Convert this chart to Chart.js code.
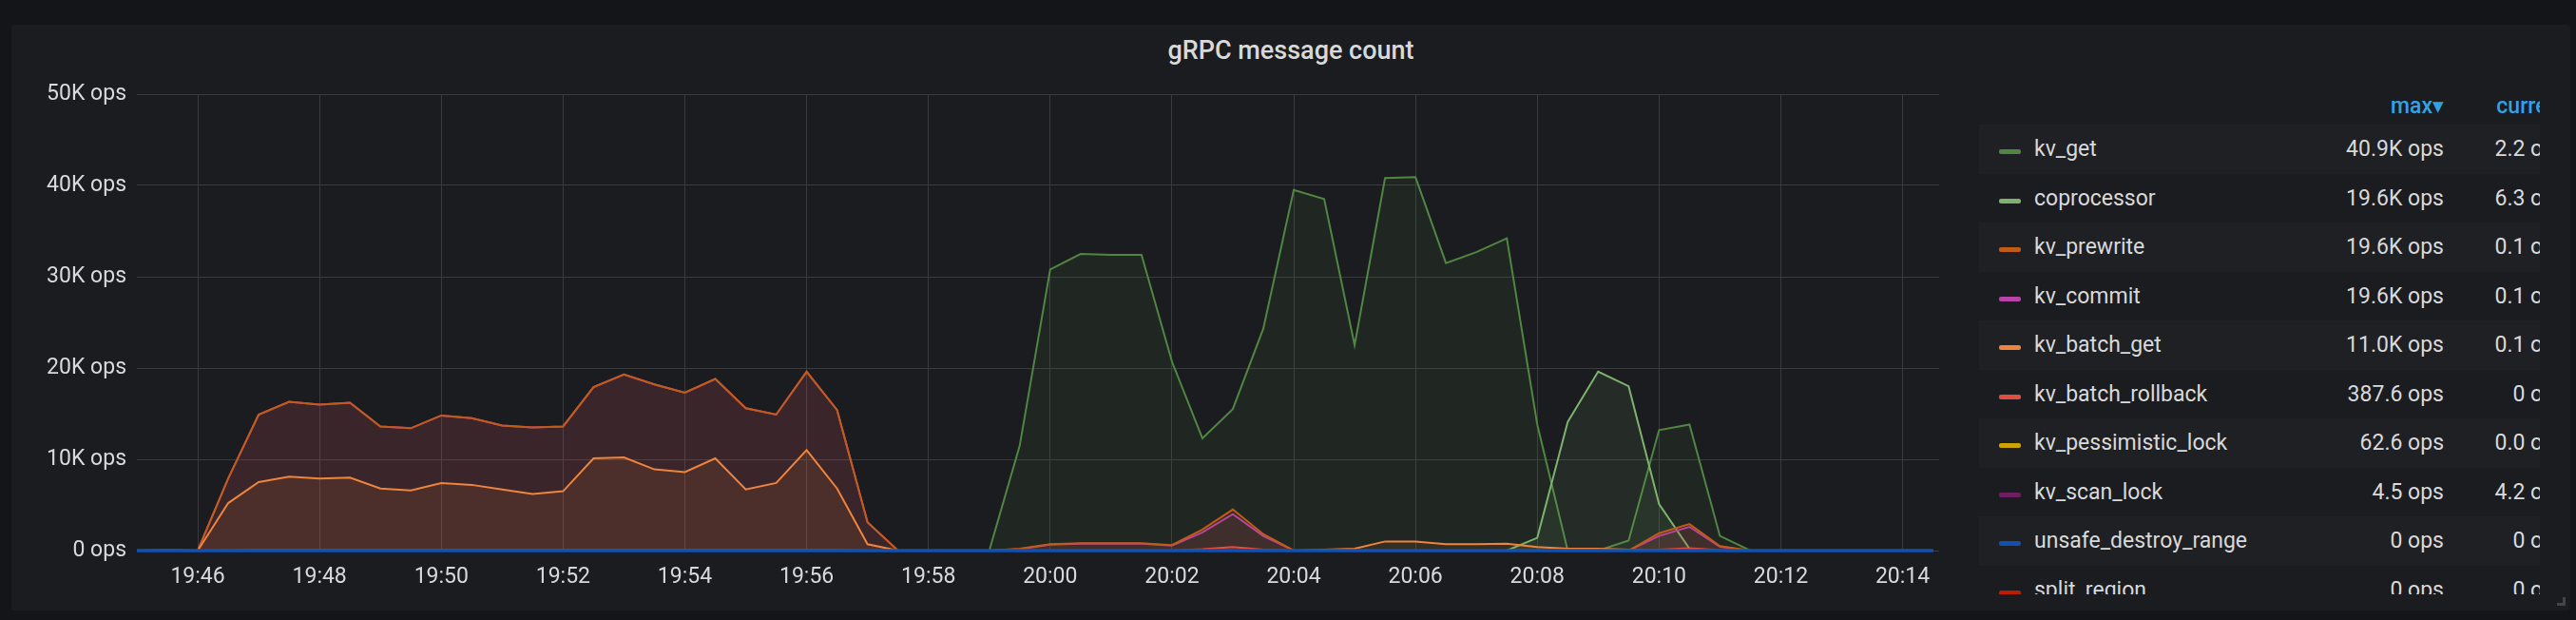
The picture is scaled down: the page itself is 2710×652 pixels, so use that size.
<!DOCTYPE html>
<html>
<head>
<meta charset="utf-8">
<script src="https://cdn.jsdelivr.net/npm/chart.js@4"></script>
<style>
  html, body { margin: 0; padding: 0; background: #141518; width: 2710px; height: 652px; overflow: hidden; font-family: Roboto, "Noto Sans", sans-serif; }
  .panel { position: absolute; left: 12px; top: 26px; width: 2692px; height: 616px; background: #1b1c1f; border-radius: 3px; }
  .title { position: absolute; left: 12px; width: 2692px; top: 37px; text-align: center; color: #d8d9da; font-size: 27px; font-weight: 500; }
  .grip { position: absolute; left: 2690px; top: 628px; width: 6px; height: 6px; border-right: 3px solid #44454a; border-bottom: 3px solid #44454a; }
  #chart { position: absolute; left: 12px; top: 70px; }
  .legend { position: absolute; left: 2082px; top: 88px; width: 590px; height: 537px; overflow: hidden; color: #d8d9da; font-size: 23px; }
  .legend .head { position: relative; height: 43px; color: #33a2e5; font-weight: 500; }
  .legend .row { position: relative; height: 51.5px; }
  .legend .row.alt { background: #1f2023; }
  .legend .sw { position: absolute; left: 21px; top: 26px; width: 23px; height: 5px; border-radius: 2px; }
  .legend .name { position: absolute; left: 58px; top: 12px; white-space: nowrap; }
  .legend .max, .legend .cur { position: absolute; top: 12px; white-space: nowrap; text-align: right; }
  .legend .max { right: 101px; }
  .legend .cur { right: -28px; }
  .legend .head .max, .legend .head .cur { top: 10px; }
</style>
</head>
<body>
<div class="panel"></div>
<div class="title">gRPC message count</div>
<div class="grip"></div>
<canvas id="chart" width="2038" height="560"></canvas>
<div class="legend" id="legend"></div>
<script>
// sample times (30s step)
const times = [
  '19:45:00','19:45:30','19:46:00','19:46:30','19:47:00','19:47:30','19:48:00','19:48:30','19:49:00','19:49:30',
  '19:50:00','19:50:30','19:51:00','19:51:30','19:52:00','19:52:30','19:53:00','19:53:30','19:54:00','19:54:30',
  '19:55:00','19:55:30','19:56:00','19:56:30','19:57:00','19:57:30','19:58:00','19:58:30','19:59:00','19:59:30',
  '20:00:00','20:00:30','20:01:00','20:01:30','20:02:00','20:02:30','20:03:00','20:03:30','20:04:00','20:04:30',
  '20:05:00','20:05:30','20:06:00','20:06:30','20:07:00','20:07:30','20:08:00','20:08:30','20:09:00','20:09:30',
  '20:10:00','20:10:30','20:11:00','20:11:30','20:12:00','20:12:30','20:13:00','20:13:30','20:14:00','20:14:30'
]

const kvGet = [
  0,0,0,0,0,0,0,0,0,0,
  0,0,0,0,0,0,0,0,0,0,
  0,0,0,0,0,0,0,0,0,11500,
  30800,32500,32400,32400,20700,12300,15500,24300,39500,38500,
  22500,40800,40900,31500,32700,34200,13800,0,0,1100,
  13200,13800,1600,0,0,0,0,0,0,2.2
]
const coprocessor = [
  0,0,0,0,0,0,0,0,0,0,
  0,0,0,0,0,0,0,0,0,0,
  0,0,0,0,0,0,0,0,0,0,
  0,0,0,0,0,0,0,0,0,0,
  0,0,0,0,0,0,1400,14100,19600,18000,
  5100,200,0,0,0,0,0,0,0,6.3
]
const kvPrewrite = [
  0,60,0,7900,14900,16300,16000,16200,13600,13400,
  14800,14500,13700,13500,13600,17900,19300,18200,17300,18800,
  15600,14900,19600,15400,3100,0,0,0,0,200,
  700,800,800,800,600,2300,4500,1800,0,0,
  0,0,0,0,0,0,0,0,0,0,
  1900,2900,500,0,0,0,0,0,0,0.1
]
const kvCommit = [
  0,50,0,7900,14900,16300,16000,16200,13600,13400,
  14800,14500,13700,13500,13600,17900,19300,18200,17300,18800,
  15600,14900,19600,15400,3100,0,0,0,0,150,
  650,750,750,750,550,2000,4000,1600,0,0,
  0,0,0,0,0,0,0,0,0,0,
  1600,2600,400,0,0,0,0,0,0,0.1
]
const kvBatchGet = [
  0,0,0,5200,7500,8100,7900,8000,6800,6600,
  7400,7200,6700,6200,6500,10100,10200,8900,8600,10100,
  6700,7400,11000,6800,700,0,0,0,0,0,
  0,0,0,0,0,0,0,0,0,100,
  200,1000,1000,700,700,750,400,200,200,100,
  0,0,0,0,0,0,0,0,0,0.1
]
const kvBatchRollback = [
  0,0,0,0,0,0,0,0,0,0,
  0,0,0,0,0,0,0,0,0,0,
  0,0,0,0,0,0,0,0,0,0,
  0,0,0,0,0,150,387.6,100,0,0,
  0,0,0,0,0,0,0,0,0,0,
  100,250,50,0,0,0,0,0,0,0
]
const kvPessimisticLock = [
  0,0,0,30,55,58,60,62.6,52,50,
  55,54,51,50,51,57,60,56,53,58,
  48,47,61,48,10,0,0,0,0,0,
  0,0,0,0,0,0,0,0,0,0,
  0,0,0,0,0,0,0,0,0,0,
  0,0,0,0,0,0,0,0,0,0
]
const kvScanLock = [
  4.2,4.3,4.2,4.4,4.2,4.3,4.5,4.2,4.3,4.2,
  4.2,4.4,4.3,4.2,4.2,4.3,4.2,4.4,4.2,4.3,
  4.2,4.3,4.2,4.2,4.4,4.2,4.3,4.2,4.2,4.3,
  4.2,4.4,4.2,4.3,4.2,4.2,4.3,4.2,4.4,4.2,
  4.3,4.2,4.2,4.3,4.2,4.4,4.2,4.3,4.2,4.2,
  4.3,4.2,4.4,4.2,4.3,4.2,4.2,4.3,4.2,4.2
]
const unsafeDestroyRange = [
  0,0,0,0,0,0,0,0,0,0, 0,0,0,0,0,0,0,0,0,0, 0,0,0,0,0,0,0,0,0,0,
  0,0,0,0,0,0,0,0,0,0, 0,0,0,0,0,0,0,0,0,0, 0,0,0,0,0,0,0,0,0,0
]
const splitRegion = [
  0,0,0,0,0,0,0,0,0,0, 0,0,0,0,0,0,0,0,0,0, 0,0,0,0,0,0,0,0,0,0,
  0,0,0,0,0,0,0,0,0,0, 0,0,0,0,0,0,0,0,0,0, 0,0,0,0,0,0,0,0,0,0
]

// legend table (sorted by max, as in the panel)
const seriesNames = ['kv_get','coprocessor','kv_prewrite','kv_commit','kv_batch_get','kv_batch_rollback','kv_pessimistic_lock','kv_scan_lock','unsafe_destroy_range','split_region']
const seriesColors = ['#508642','#7eb26d','#c15c17','#ba43a9','#ef843c','#e24d42','#cca300','#6d1f62','#1250b0','#bf1b00']
const seriesData = [kvGet, coprocessor, kvPrewrite, kvCommit, kvBatchGet, kvBatchRollback, kvPessimisticLock, kvScanLock, unsafeDestroyRange, splitRegion]
const legendMax = ['40.9K ops','19.6K ops','19.6K ops','19.6K ops','11.0K ops','387.6 ops','62.6 ops','4.5 ops','0 ops','0 ops']
const legendCurrent = ['2.2 ops','6.3 ops','0.1 ops','0.1 ops','0.1 ops','0 ops','0.0 ops','4.2 ops','0 ops','0 ops']
// bottom-to-top drawing order
const drawOrder = ['split_region','kv_get','coprocessor','kv_commit','kv_prewrite','kv_batch_get','kv_batch_rollback','kv_pessimistic_lock','kv_scan_lock','unsafe_destroy_range']

const xTicks = [46,48,50,52,54,56,58,60,62,64,66,68,70,72,74]
const xTickLabels = ['19:46','19:48','19:50','19:52','19:54','19:56','19:58','20:00','20:02','20:04','20:06','20:08','20:10','20:12','20:14']
const yTicks = [0,10000,20000,30000,40000,50000]
const yTickLabels = ['0 ops','10K ops','20K ops','30K ops','40K ops','50K ops']

const toMinutes = t => {
  const [h, m, s] = t.split(':').map(Number)
  return (h - 19) * 60 + m + s / 60
}

const hexAlpha = (hex, a) => {
  const n = parseInt(hex.slice(1), 16)
  return `rgba(${n >> 16},${(n >> 8) & 255},${n & 255},${a})`
}

const datasets = seriesNames.map((name, i) => ({
  label: name,
  data: seriesData[i].map((v, j) => ({ x: toMinutes(times[j]), y: v })),
  borderColor: seriesColors[i],
  backgroundColor: hexAlpha(seriesColors[i], 0.1),
  borderWidth: name === 'unsafe_destroy_range' ? 3.5 : 2,
  fill: 'origin',
  pointRadius: 0,
  tension: 0,
  clip: 4,
  order: drawOrder.length - drawOrder.indexOf(name)
}))

const gridColor = '#3a3b3f'
const tickFont = { family: 'Roboto', size: 23 }

new Chart(document.getElementById('chart'), {
  type: 'line',
  data: { datasets },
  options: {
    responsive: false,
    animation: false,
    devicePixelRatio: 1,
    layout: { padding: { top: 29, right: 10, bottom: 0, left: 0 } },
    plugins: { legend: { display: false }, tooltip: { enabled: false } },
    scales: {
      x: {
        type: 'linear',
        min: 45,
        max: 74.6,
        afterBuildTicks: s => { s.ticks = xTicks.map(v => ({ value: v })) },
        afterFit: s => { s.height = 51 },
        ticks: {
          color: '#d8d9da',
          font: tickFont,
          padding: 14,
          maxRotation: 0,
          autoSkip: false,
          callback: v => xTickLabels[xTicks.indexOf(v)]
        },
        grid: { color: gridColor, drawTicks: false },
        border: { display: false }
      },
      y: {
        min: 0,
        max: 50000,
        afterBuildTicks: s => { s.ticks = yTicks.map(v => ({ value: v })) },
        afterFit: s => { s.width = 132 },
        ticks: {
          color: '#d8d9da',
          font: tickFont,
          padding: 11,
          callback: v => yTickLabels[yTicks.indexOf(v)]
        },
        grid: { color: gridColor, drawTicks: false },
        border: { display: false }
      }
    }
  }
})

// legend table
const legend = document.getElementById('legend')
let html = '<div class="head"><span class="max">max&#9662;</span><span class="cur">current</span></div>'
seriesNames.forEach((name, i) => {
  html += `<div class="row${i % 2 === 0 ? ' alt' : ''}">` +
    `<span class="sw" style="background:${seriesColors[i]}"></span>` +
    `<span class="name">${name}</span>` +
    `<span class="max">${legendMax[i]}</span>` +
    `<span class="cur">${legendCurrent[i]}</span></div>`
})
legend.innerHTML = html
</script>
</body>
</html>
